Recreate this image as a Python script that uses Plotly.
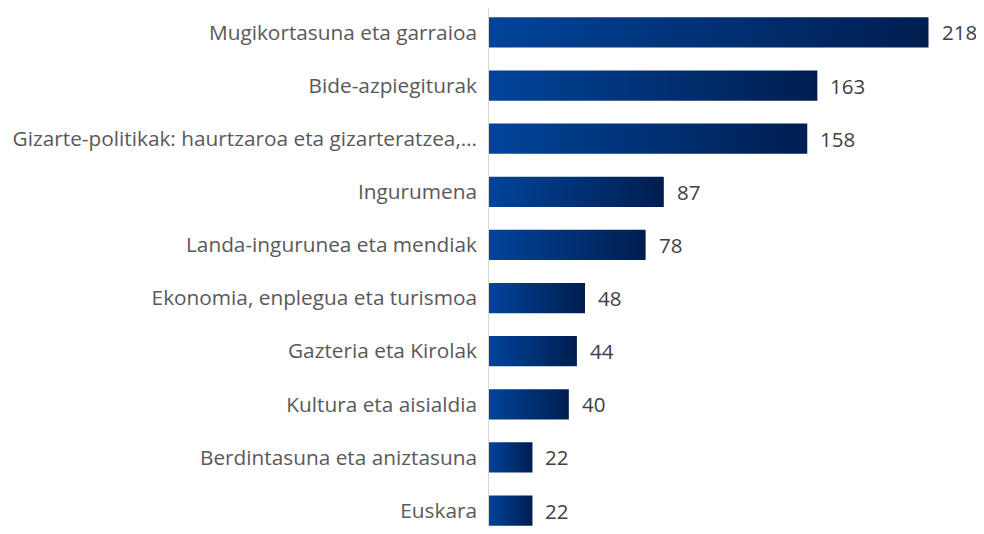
import plotly.graph_objects as go

categories = ["Mugikortasuna eta garraioa", "Bide-azpiegiturak",
              "Gizarte-politikak: haurtzaroa eta gizarteratzea,…", "Ingurumena",
              "Landa-ingurunea eta mendiak", "Ekonomia, enplegua eta turismoa",
              "Gazteria eta Kirolak", "Kultura eta aisialdia",
              "Berdintasuna eta aniztasuna", "Euskara"]
values = [218, 163, 158, 87, 78, 48, 44, 40, 22, 22]

half = 0.285
fig = go.Figure()
for i, v in enumerate(values):
    fig.add_trace(go.Scatter(
        x=[0, v, v, 0, 0], y=[i - half, i - half, i + half, i + half, i - half],
        mode="lines", line=dict(width=0), fill="toself",
        fillgradient=dict(type="horizontal",
                          colorscale=[[0, "#00449A"], [1, "#001E50"]]),
        hoverinfo="skip", showlegend=False, cliponaxis=False))
    fig.add_annotation(x=v, y=i, text=str(v), showarrow=False, xanchor="left",
                       xshift=11, font=dict(family="Open Sans", size=20.5, color="#404040"))

fig.update_layout(
    width=968, height=518, plot_bgcolor="white", paper_bgcolor="white",
    margin=dict(l=480, r=0, t=0, b=0, autoexpand=False),
    font=dict(family="Open Sans", size=20.8, color="#595959"),
    xaxis=dict(range=[0, 241.5], visible=False, automargin=False),
    yaxis=dict(range=[9.29, -0.46], tickvals=list(range(len(categories))),
               ticktext=categories, showgrid=False, zeroline=False,
               ticks="", ticklabelstandoff=10, automargin=False,
               tickfont=dict(family="Open Sans", size=20.8, color="#595959")),
    shapes=[dict(type="line", xref="x", yref="paper", x0=0, x1=0, y0=0, y1=1,
                 line=dict(color="#D9D9D9", width=2))],
)
fig.write_html("out.html")
